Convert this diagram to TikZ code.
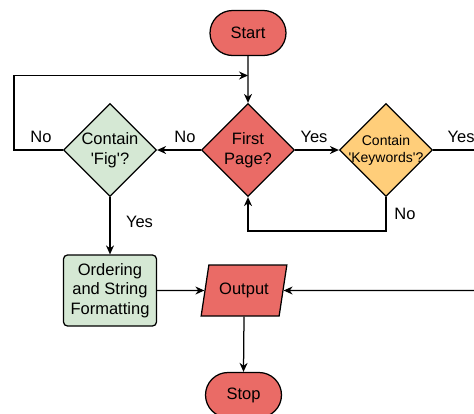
\documentclass[tikz,border=0pt]{standalone}
\usepackage{fontspec}
\setmainfont{Liberation Sans}
\usetikzlibrary{positioning,shapes.geometric,shapes.misc,arrows.meta}
\definecolor{flowred}{RGB}{234,107,102}
\definecolor{flowgreen}{RGB}{213,232,212}
\definecolor{floworange}{RGB}{255,206,122}

\begin{document}
\begin{tikzpicture}[
	x=1pt, y=-1pt,
	font=\fontsize{16.5}{19.5}\selectfont,
	line width=1.25pt,
	>={Stealth[length=9pt,width=8pt]},
	% Start / Stop
	terminal/.style={
		rounded rectangle, draw=black, fill=flowred,
		minimum width=76pt, minimum height=45pt, inner sep=0pt
	},
	% decisions (text goes in a centred label)
	decision/.style={
		diamond, draw=black, minimum width=93pt, minimum height=93pt, inner sep=0pt
	},
	dtext/.style={align=center, inner sep=0pt},
	process/.style={
		rectangle, rounded corners=4pt, draw=black, fill=flowgreen,
		minimum width=93pt, minimum height=71pt, align=center, inner sep=0pt
	},
	io/.style={
		trapezium, trapezium left angle=70, trapezium right angle=110,
		trapezium stretches=true, draw=black, fill=flowred,
		minimum width=86pt, minimum height=51pt, inner sep=0pt
	},
	lbl/.style={inner sep=0pt},
	flow/.style={->, draw=black}
	]

	\useasboundingbox (0,0) rectangle (474,413);

	% --- NODES ---
	\node[terminal] (start) at (248,33) {Start};
	\node[decision, fill=flowred, label={[dtext, font=\fontsize{16.5}{20.5}\selectfont]center:First\\Page?}] (first) at (248,150) {};
	\node[decision, fill=flowgreen, label={[dtext]center:Contain\\\textquotesingle Fig\textquotesingle?}] (fig) at (110,150) {};
	\node[decision, fill=floworange, label={[dtext, font=\fontsize{14}{17}\selectfont]center:Contain\\\textquotesingle Keywords\textquotesingle?}] (kw) at (386,150) {};
	\node[process] (order) at (110,290.5) {Ordering\\and String\\Formatting};
	\node[io] (out) at (244,290.5) {Output};
	\node[terminal] (stop) at (243.5,395) {Stop};

	% --- HELPER POINTS ---
	\coordinate (loop) at (248,75.5);
	\coordinate (loopl) at (14,75.5);
	\coordinate (figl) at (14,150);
	\coordinate (kwr) at (474,150);
	\coordinate (kwb) at (386,231);
	\coordinate (firstb) at (248,231);
	\coordinate (outr) at (474,290.5);

	% --- CONNECTORS ---
	\draw[flow] (start) -- (first);
	\draw[flow] (first.west) -- (fig.east);
	\draw[flow] (first.east) -- (kw.west);
	\draw (kw.east) -- (kwr);
	\draw[flow] (fig.west) -- (figl) -- (loopl) -- (loop);
	\draw[flow] (kw.south) -- (kwb) -- (firstb) -- (first.south);
	\draw[flow] (fig.south) -- (order.north);
	\draw[flow] (order.east) -- (out.west);
	\draw[flow] (outr) -- (out.east);
	\draw[flow] (out.south) -- (stop.north);

	% --- LABELS ---
	\node[lbl] (no1) at (41,137) {No};
	\node[lbl] (no2) at (185,137) {No};
	\node[lbl] (yes1) at (314,137) {Yes};
	\node[lbl, anchor=west] (yes2) at (447,137) {Yes};
	\node[lbl] (yes3) at (139.5,222) {Yes};
	\node[lbl] (no3) at (405,214) {No};
\end{tikzpicture}
\end{document}
